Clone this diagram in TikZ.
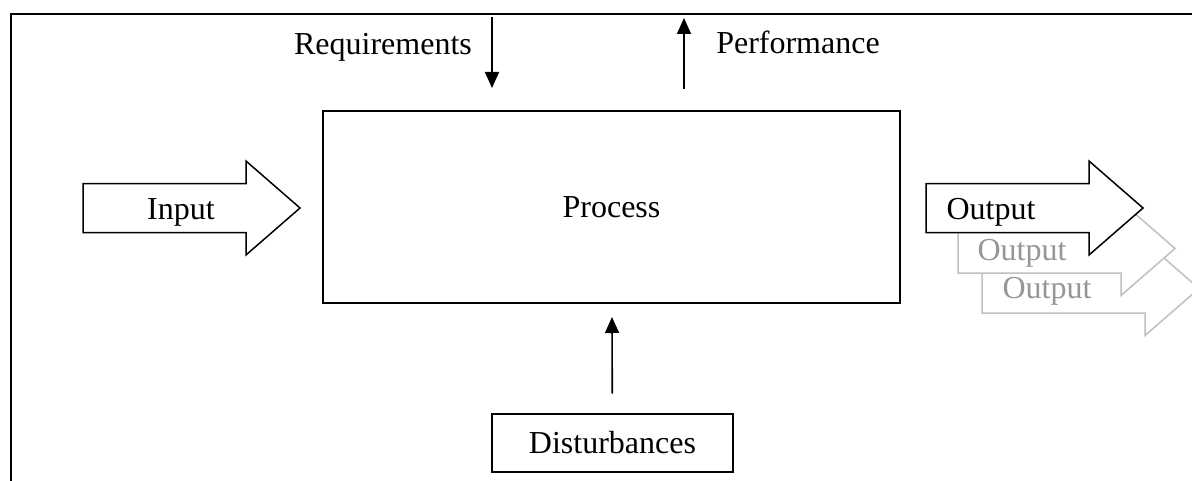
\documentclass[tikz,border=0pt]{standalone}
\usepackage{fontspec}
\setmainfont{Liberation Serif}
\usetikzlibrary{arrows.meta}
\definecolor{ghostline}{RGB}{192,192,192}
\definecolor{ghosttext}{RGB}{150,150,150}
\tikzset{
  x=0.5pt, y=-0.5pt,
  every node/.style={font=\fontsize{16}{19}\selectfont, inner sep=0pt},
  label text/.style={anchor=base},
  frame/.style={line width=1pt},
  boxed/.style={draw, line width=1pt, text depth=-4pt},
  signal/.style={line width=0.8pt, -{Triangle[length=8pt,width=7pt]}},
  fatarrow/.style={draw, fill=white, line width=0.75pt, line join=miter},
  ghost/.style={fatarrow, draw=ghostline},
  pics/blockarrow/.style={code={
    \path[#1] (0,-24.5) -- (163,-24.5) -- (163,-47) -- (217,0)
      -- (163,47) -- (163,24.5) -- (0,24.5) -- cycle;}}
}
\begin{document}
\begin{tikzpicture}
\useasboundingbox (0,0) rectangle (1192,481);
\clip (0,0) rectangle (1192,481);

% open frame: top and left edges only
\draw[frame] (11,481) -- (11,14) -- (1192,14);

% main process block
\node[boxed, minimum width=577*0.5pt, minimum height=192*0.5pt] (proc) at (611.5,207) {Process};

% disturbance source below the process
\node[boxed, minimum width=241*0.5pt, minimum height=58*0.5pt] (dist) at (612.5,442.5) {Disturbances};
\draw[signal, shorten <=9.5pt, shorten >=6.5pt] (dist) -- (proc);

% requirements coming in from the top
\coordinate (reqtop) at (492,17);
\coordinate (reqend) at (492,88);
\draw[signal] (reqtop) -- (reqend);
\node[label text] (req) at (383,55) {Requirements};

% performance leaving through the top
\coordinate (perfbot) at (684,89);
\coordinate (perftop) at (684,18);
\draw[signal] (perfbot) -- (perftop);
\node[label text] (perf) at (798,54) {Performance};

% input block arrow
\pic at (83,208) {blockarrow=fatarrow};
\node[label text] (in) at (181,219) {Input};

% stacked outputs, faded copies behind
\pic at (982,288.5) {blockarrow=ghost};
\node[label text, text=ghosttext] (out3) at (1047,298) {Output};
\pic at (958,248.5) {blockarrow=ghost};
\node[label text, text=ghosttext] (out2) at (1022,260) {Output};
\pic at (926,208) {blockarrow=fatarrow};
\node[label text] (out1) at (991,219) {Output};
\end{tikzpicture}
\end{document}
